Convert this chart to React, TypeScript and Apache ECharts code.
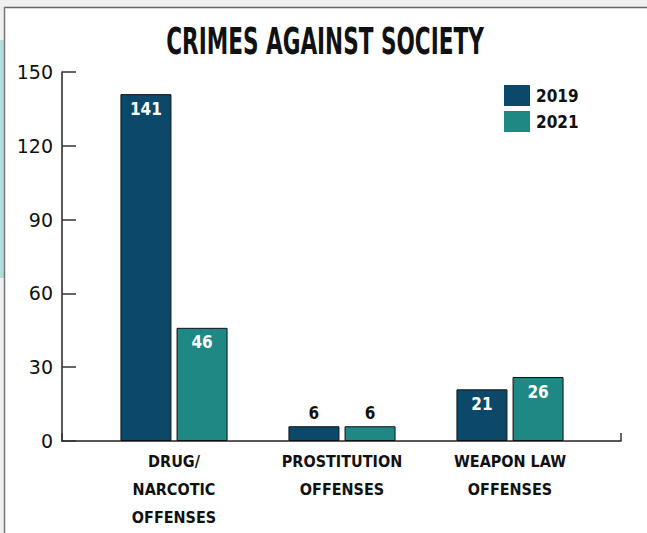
import React, { useEffect, useRef } from "react";
import * as echarts from "echarts";

const categories = ["DRUG/\nNARCOTIC\nOFFENSES", "PROSTITUTION\nOFFENSES", "WEAPON LAW\nOFFENSES"];
const values2019 = [141, 6, 21];
const values2021 = [46, 6, 26];
const seriesNames = ["2019", "2021"];
const titleText = "CRIMES AGAINST SOCIETY";
const yMin = 0;
const yMax = 150;
const yInterval = 30;

const COND = "'DejaVu Sans Condensed', 'Liberation Sans Narrow', sans-serif";
const C2019 = "#0b4869";
const C2021 = "#1f8784";

export default function App() {
  const ref = useRef<HTMLDivElement>(null);
  useEffect(() => {
    if (!ref.current) return;
    const chart = echarts.init(ref.current, undefined, { renderer: "svg" });
    const labelFor = () => ({
      show: true,
      position: "insideTop",
      distance: 6,
      color: "#ffffff",
      fontFamily: COND,
      fontWeight: "bold",
      fontSize: 17,
      formatter: (p: any) => String(p.value),
    });
    const dataFor = (vals: number[]) =>
      vals.map((v) =>
        v < 10
          ? { value: v, label: { position: "top", color: "#111111", distance: 5 } }
          : { value: v }
      );
    chart.setOption({
      animation: false,
      backgroundColor: "#ffffff",
      legend: {
        orient: "vertical",
        left: 504,
        top: 85,
        padding: 0,
        itemWidth: 26,
        itemHeight: 21,
        itemGap: 5,
        icon: "rect",
        itemStyle: { borderWidth: 0 },
        data: seriesNames,
        textStyle: { fontFamily: COND, fontWeight: "bold", fontSize: 17, color: "#111111", padding: [0, 0, 0, 1] },
      },
      graphic: [
        { type: "rect", shape: { x: 0, y: 0, width: 647, height: 7 }, style: { fill: "#f0f0f0" }, silent: true },
        { type: "rect", shape: { x: 0, y: 0, width: 4, height: 533 }, style: { fill: "#f0f0f0" }, silent: true },
        { type: "rect", shape: { x: 0, y: 40, width: 4, height: 238 }, style: { fill: "#b3ddd9" }, silent: true },
        { type: "line", shape: { x1: 4, y1: 7.5, x2: 647, y2: 7.5 }, style: { stroke: "#666666", lineWidth: 1.5 }, silent: true },
        { type: "line", shape: { x1: 4.5, y1: 7, x2: 4.5, y2: 533 }, style: { stroke: "#777777", lineWidth: 1.5 }, silent: true },
        {
          type: "text",
          x: 325,
          y: 41,
          scaleX: 0.8,
          scaleY: 1.22,
          silent: true,
          style: {
            text: titleText,
            fontFamily: COND,
            fontWeight: "bold",
            fontSize: 30,
            fill: "#111111",
            textAlign: "center",
            textVerticalAlign: "middle",
          },
        },
      ],
      grid: [
        { left: 62, right: 26, top: 72, bottom: 92 },
        { left: 90, right: 53, top: 72, bottom: 92 },
      ],
      xAxis: [
        {
          type: "value",
          gridIndex: 0,
          min: 0,
          max: 1,
          interval: 1,
          axisLine: { show: true, lineStyle: { color: "#222222", width: 1.5 } },
          axisTick: { show: true, inside: true, length: 8, lineStyle: { color: "#333333", width: 1.5 } },
          axisLabel: { show: false },
          splitLine: { show: false },
        },
        {
          type: "category",
          gridIndex: 1,
          data: categories,
          axisLine: { show: false },
          axisTick: { show: false },
          axisLabel: {
            margin: 6,
            fontFamily: COND,
            fontWeight: "bold",
            fontSize: 16,
            lineHeight: 28,
            color: "#111111",
            interval: 0,
          },
        },
      ],
      yAxis: [
        {
          type: "value",
          gridIndex: 0,
          min: yMin,
          max: yMax,
          interval: yInterval,
          axisLine: { show: true, lineStyle: { color: "#222222", width: 1.5 } },
          axisTick: { show: true, inside: true, length: 14, lineStyle: { color: "#333333", width: 1.5 } },
          axisLabel: { margin: 9, fontFamily: "'DejaVu Sans', sans-serif", fontSize: 19, color: "#111111" },
          splitLine: { show: false },
        },
        {
          type: "value",
          gridIndex: 1,
          min: yMin,
          max: yMax,
          interval: yInterval,
          show: false,
        },
      ],
      series: [
        {
          name: seriesNames[0],
          type: "bar",
          xAxisIndex: 1,
          yAxisIndex: 1,
          barWidth: 51,
          barGap: "10%",
          itemStyle: { color: C2019, borderColor: "#111111", borderWidth: 1 },
          label: labelFor(),
          data: dataFor(values2019),
        },
        {
          name: seriesNames[1],
          type: "bar",
          xAxisIndex: 1,
          yAxisIndex: 1,
          barWidth: 51,
          barGap: "10%",
          itemStyle: { color: C2021, borderColor: "#111111", borderWidth: 1 },
          label: labelFor(),
          data: dataFor(values2021),
        },
      ],
    });
    return () => chart.dispose();
  }, []);
  return (
    <div
      ref={ref}
      style={{ position: "fixed", left: 0, top: 0, width: 647, height: 533 }}
    />
  );
}
